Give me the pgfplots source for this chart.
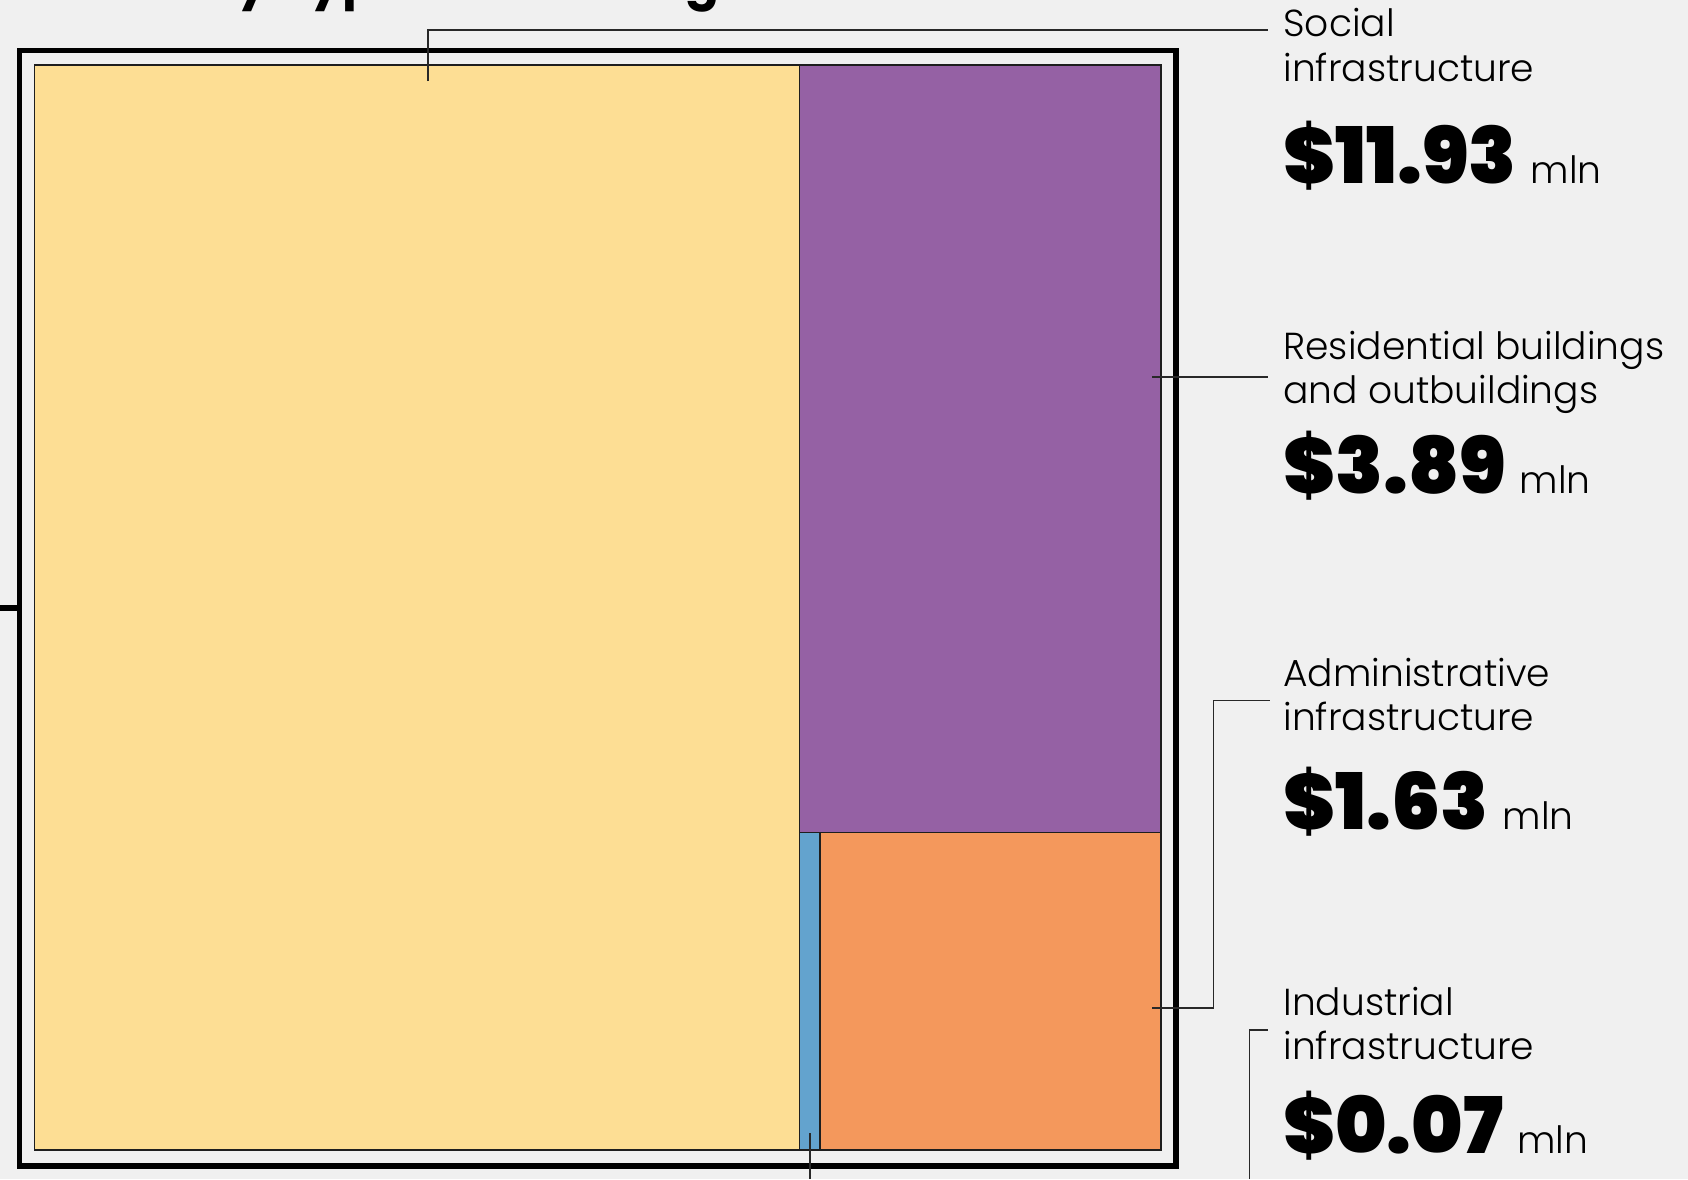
\documentclass[border=0pt]{standalone}
\usepackage{pgfplots}
\pgfplotsset{compat=1.18}
\usepackage{fontspec}
\setmainfont{Poppins Light}
\newfontfamily\labfont{Poppins Light}
\newfontfamily\numfont{Poppins Black}
\newfontfamily\titlefont{Poppins Bold}

\definecolor{bg}{RGB}{240,240,240}
\definecolor{social}{RGB}{253,222,148}
\definecolor{resid}{RGB}{149,97,164}
\definecolor{indus}{RGB}{99,163,206}
\definecolor{admin}{RGB}{244,152,92}
\definecolor{edge}{RGB}{30,30,30}
\definecolor{lead}{RGB}{40,40,40}

\newcommand{\lab}[1]{{\labfont\fontsize{18.8pt}{22pt}\selectfont #1}}
\newcommand{\val}[1]{{\numfont\fontsize{39pt}{44pt}\selectfont\$#1}\hspace{7pt}\lab{mln}}
\newcommand{\ttl}[1]{{\titlefont\fontsize{25pt}{30pt}\selectfont #1}}

\begin{document}
\begin{tikzpicture}
\begin{axis}[
  at={(0,0)}, anchor=south west,
  scale only axis, width=844pt, height=589.5pt,
  xmin=0, xmax=1688, ymin=0, ymax=1179, y dir=reverse,
  hide axis, clip=false,
]
% page background
\fill[bg] (axis cs:0,0) rectangle (axis cs:1688,1179);

% title, mostly cut off by the top edge
\node[anchor=base east, inner sep=0] at (axis cs:270,-2) {\ttl{Losses by}};
\node[anchor=base west, inner sep=0] at (axis cs:290,-2) {\ttl{types of buildings}};

% treemap tiles (pixel layout)
\addplot[fill=social, draw=edge, line width=0.75pt]
  coordinates {(34.5,65) (799.5,65) (799.5,1150) (34.5,1150)} -- cycle;
\addplot[fill=resid, draw=edge, line width=0.75pt]
  coordinates {(799.5,65) (1161,65) (1161,832.5) (799.5,832.5)} -- cycle;
\addplot[fill=admin, draw=edge, line width=0.75pt]
  coordinates {(820,832.5) (1161,832.5) (1161,1150) (820,1150)} -- cycle;
\addplot[fill=indus, draw=edge, line width=0.9pt]
  coordinates {(799.5,832.5) (820,832.5) (820,1150) (799.5,1150)} -- cycle;

% outer frame and left tick
\addplot[draw=black, line width=2.8pt]
  coordinates {(19.5,50.5) (1176,50.5) (1176,1166) (19.5,1166)} -- cycle;
\addplot[draw=black, line width=3pt] coordinates {(0,607.5) (19.5,607.5)};

% leader lines
\addplot[draw=lead, line width=0.7pt] coordinates {(428,81) (428,30) (1268,30)};
\addplot[draw=lead, line width=0.7pt] coordinates {(1152,377) (1268,377)};
\addplot[draw=lead, line width=0.7pt] coordinates {(1152,1008) (1213.5,1008) (1213.5,700.5) (1270,700.5)};
\addplot[draw=lead, line width=0.7pt] coordinates {(810,1133) (810,1179)};
\addplot[draw=lead, line width=0.7pt] coordinates {(1249.5,1179) (1249.5,1030) (1268,1030)};

% labels
\node[anchor=base west, inner sep=0] at (axis cs:1283,36) {\lab{Social}};
\node[anchor=base west, inner sep=0] at (axis cs:1283,81.5) {\lab{infrastructure}};
\node[anchor=base west, inner sep=0] at (axis cs:1283,183.3) {\val{11.93}};

\node[anchor=base west, inner sep=0] at (axis cs:1283,359.3) {\lab{Residential buildings}};
\node[anchor=base west, inner sep=0] at (axis cs:1283,403.3) {\lab{and outbuildings}};
\node[anchor=base west, inner sep=0] at (axis cs:1283,493.3) {\val{3.89}};

\node[anchor=base west, inner sep=0] at (axis cs:1283,686.7) {\lab{Administrative}};
\node[anchor=base west, inner sep=0] at (axis cs:1283,730.7) {\lab{infrastructure}};
\node[anchor=base west, inner sep=0] at (axis cs:1283,829.3) {\val{1.63}};

\node[anchor=base west, inner sep=0] at (axis cs:1283,1015) {\lab{Industrial}};
\node[anchor=base west, inner sep=0] at (axis cs:1283,1059.3) {\lab{infrastructure}};
\node[anchor=base west, inner sep=0] at (axis cs:1283,1153.3) {\val{0.07}};
\end{axis}
\pgfresetboundingbox
\useasboundingbox (0,0) rectangle (844pt,589.5pt);
\end{tikzpicture}
\end{document}
